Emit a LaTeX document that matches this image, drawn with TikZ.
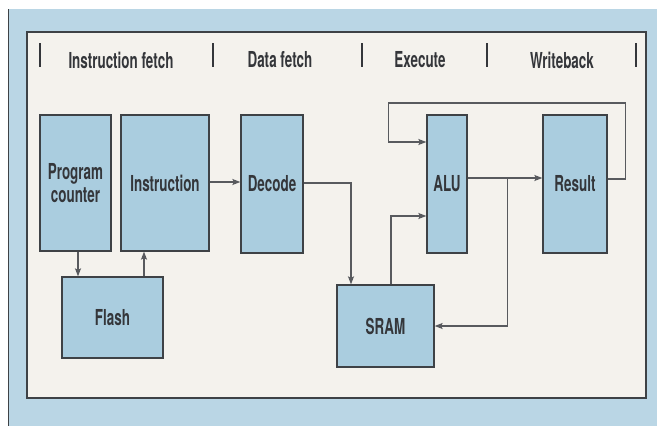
\documentclass[tikz,border=0pt]{standalone}
\usepackage{fontspec}
\usetikzlibrary{calc,arrows.meta}
\newfontfamily\cnfont{TeX Gyre Heros}[FakeStretch=0.61]

\definecolor{framefill}{RGB}{186,214,229}
\definecolor{panelfill}{RGB}{244,242,237}
\definecolor{boxfill}{RGB}{170,205,223}
\definecolor{boxline}{RGB}{62,66,70}
\definecolor{wire}{RGB}{88,90,94}
\definecolor{inkcol}{RGB}{52,54,58}

\begin{document}
\begin{tikzpicture}[x=1pt,y=-1pt,
  lbl/.style={font=\cnfont\bfseries\fontsize{22}{23.5}\selectfont, text=inkcol, align=center},
  blk/.style={lbl, draw=boxline, line width=1.3pt, fill=boxfill, inner sep=0pt},
  arr/.style={draw=wire, line width=1.3pt, -{Stealth[length=8pt,width=6pt,inset=1.5pt]}},
  sep/.style={draw=inkcol, line width=1.8pt}]

\useasboundingbox (0,0) rectangle (657,426);
\fill[white] (0,0) rectangle (657,426);

% outer blue frame and inner panel
\fill[framefill] (8,9) rectangle (657,426);
\draw[boxline, line width=0.8pt] (8,9) -- (8,426);
\fill[panelfill] (27,32) rectangle (646,398);
\draw[boxline, line width=1.2pt] (27,32) rectangle (646,398);

% pipeline stage header
\foreach \x in {40,213,362,487,636} \draw[sep] (\x,43) -- (\x,67);
\node[lbl] (hif) at (121,60) {Instruction fetch};
\node[lbl] (hdf) at (280,60) {Data fetch};
\node[lbl] (hex) at (420,60) {Execute};
\node[lbl] (hwb) at (562,60) {Writeback};

% blocks
\node[blk, minimum width=71pt, minimum height=136pt] (pc) at (75.5,183) {Program\\counter};
\node[blk, minimum width=88pt, minimum height=136pt] (instr) at (165,183) {Instruction};
\node[blk, minimum width=62pt, minimum height=138pt] (decode) at (272,184) {Decode};
\node[blk, minimum width=101pt, minimum height=81pt] (flash) at (112.5,317.5) {Flash};
\node[blk, minimum width=97pt, minimum height=82pt] (sram) at (385.5,326) {SRAM};
\node[blk, minimum width=40pt, minimum height=138pt] (alu) at (447,184) {ALU};
\node[blk, minimum width=64pt, minimum height=138pt] (result) at (575,184) {Result};

% connectors
\coordinate (pcout) at ($(pc.south)+(2.5,0)$);
\coordinate (flout) at ($(instr.south)+(-21,0)$);
\draw[arr] (pcout) -- (pcout |- flash.north);
\draw[arr] (flout |- flash.north) -- (flout);
\draw[arr] ($(instr.east)+(0,-1)$) -- ($(decode.west)+(0,-2)$);
\draw[arr] ($(decode.east)+(0,-1)$) -| ($(sram.north)+(-34.5,0)$);
\draw[arr] ($(sram.north)+(5.5,0)$) |- ($(alu.west)+(0,32)$);
\draw[arr] ($(alu.east)+(0,-6)$) -- ($(result.west)+(0,-6)$);
\coordinate (tap) at ($(alu.east)+(40,-6)$);
\draw[arr] (tap) |- (sram.east);
\draw[arr] ($(result.east)+(0,-5)$) -- ++(18,0) |- ($(alu.west)+(-38,-81)$) |- ($(alu.west)+(0,-42)$);
\end{tikzpicture}
\end{document}
